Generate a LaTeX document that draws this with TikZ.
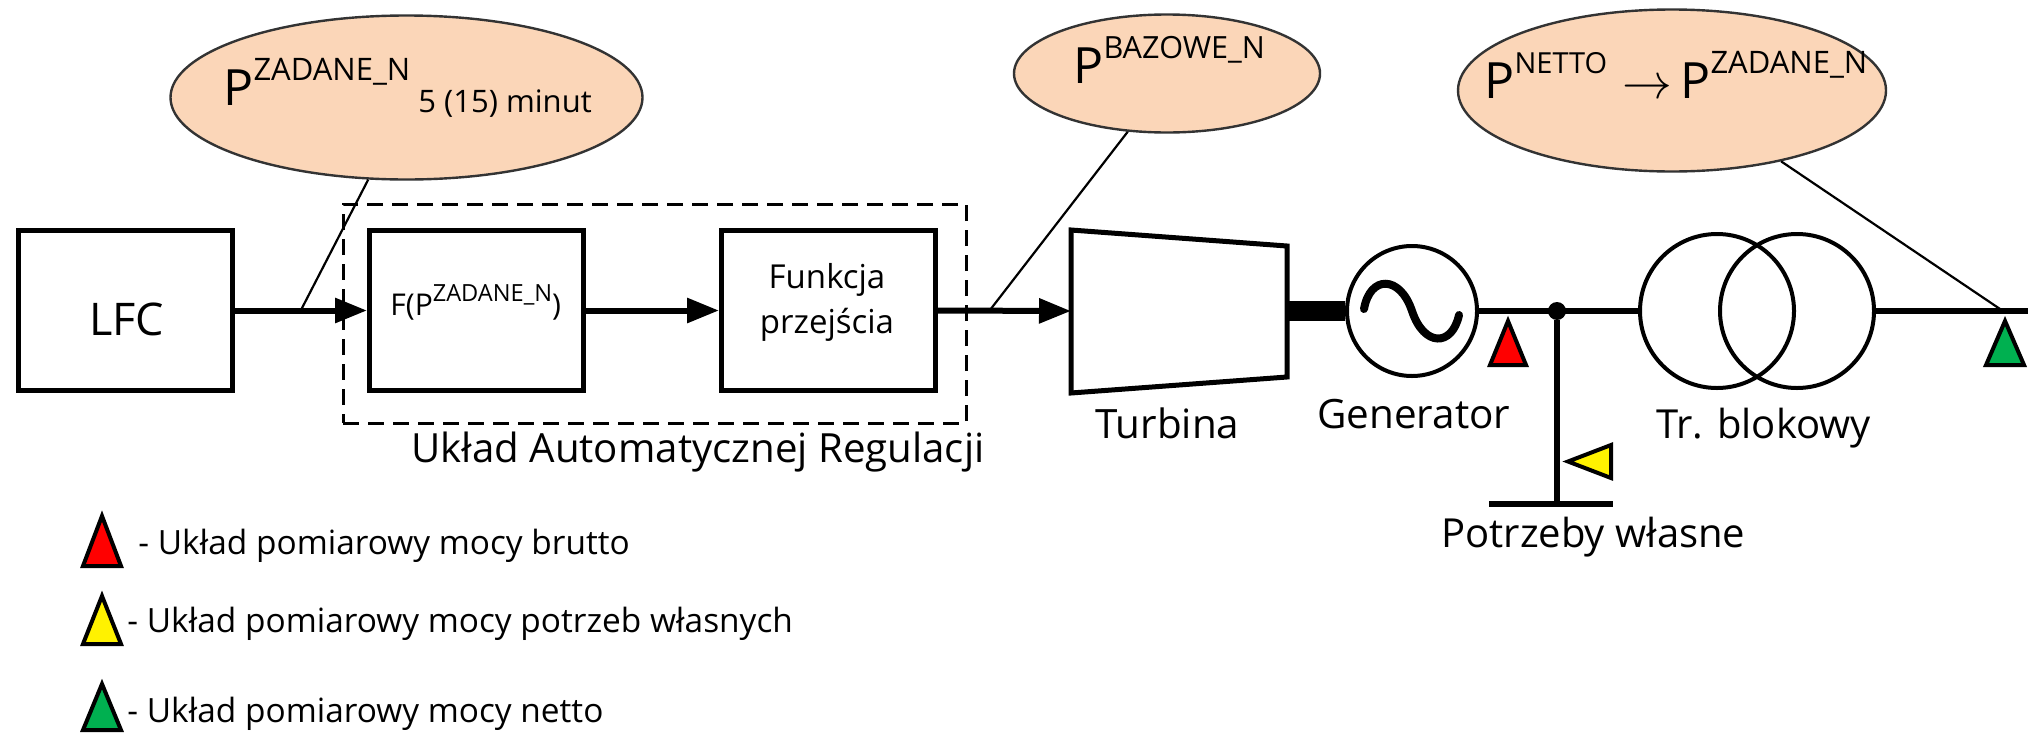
\documentclass[tikz,border=0pt]{standalone}
\usepackage{fontspec}
\setmainfont{Open Sans}
\usetikzlibrary{arrows.meta,positioning,shapes.geometric}

\definecolor{callout}{HTML}{FBD6B8}
\definecolor{greenmeter}{HTML}{00B050}

\newcommand{\fs}[1]{\fontsize{#1}{#1}\selectfont}
\newcommand{\sups}[2]{\raisebox{#1}{#2}}

\tikzset{
    block/.style={draw, line width=2.5pt, minimum width=107pt, minimum height=80pt, inner sep=0pt},
    wire/.style={line width=3pt},
    flow/.style={wire, -{Triangle[length=16pt,width=12pt]}},
    bubble/.style={ellipse, draw=black!80, line width=1.2pt, fill=callout, inner sep=0pt},
    leader/.style={line width=1.1pt},
    winding/.style={circle, draw, line width=2pt, inner sep=0pt},
    meter/.style={draw, line width=2pt, line join=miter},
    lbl/.style={inner sep=0pt, anchor=base west},
}

\begin{document}
\begin{tikzpicture}[x=0.5pt, y=-0.5pt, font=\fs{16}]
    \useasboundingbox (0,0) rectangle (2028,734);

    % Blocks
    \node[block] (lfc) at (125.5,310.5) {};
    \node[block, right=66pt of lfc] (fzad) {};
    \node[block, right=66.5pt of fzad] (funk) {};
    \node[lbl, font=\fs{22.5}] (lfctxt) at (89,335) {LFC};
    \node[lbl, font=\fs{15}] (fzadtxt) at (390,315) {F(P\sups{7pt}{\fs{11.8}ZADANE\_N})};
    \node[lbl, anchor=base, font=\fs{16.5}] (funktxt1) at (827,288) {Funkcja};
    \node[lbl, anchor=base, font=\fs{16.5}] (funktxt2) at (827,333) {przejścia};

    % Regulator frame
    \node[draw, line width=1.5pt, dash pattern=on 8pt off 4.5pt, minimum width=311.5pt,
        minimum height=109.5pt] (frame) at (654.5,313.5) {};
    \node[lbl, font=\fs{20.1}] (frametxt) at (411,462) {Układ Automatycznej Regulacji};

    % Turbine
    \coordinate (turbin) at (1071,311);
    \coordinate (turbout) at (1287,311);
    \draw[line width=2.5pt, line join=miter] (1071,230) -- (1287,246) -- (1287,377) -- (1071,393) -- cycle;
    \node[lbl, font=\fs{20.2}] (turbtxt) at (1095,438) {Turbina};

    % Generator
    \node[winding, minimum size=65pt] (gen) at (1412,311) {};
    \draw[line width=4pt, line cap=round] (1364,309) .. controls (1370,275) and (1400,275) .. (1412,311)
        .. controls (1424,347) and (1452,347) .. (1459,315);
    \node[lbl, font=\fs{20.2}] (gentxt) at (1317,428) {Generator};

    % Transformer
    \node[winding, minimum size=77pt] (trl) at (1717,311) {};
    \node[winding, minimum size=77pt] (trp) at (1797,311) {};
    \node[lbl, font=\fs{20}] (trtxt) at (1656,438) {Tr. blokowy};

    % Auxiliaries
    \node[circle, fill=black, inner sep=0pt, minimum size=9pt] (tap) at (1557,311) {};
    \coordinate (busl) at (1489,504);
    \coordinate (busr) at (1613,504);
    \coordinate (lineend) at (2028,311);
    \node[lbl, font=\fs{20}] (bustxt) at (1441,547) {Potrzeby własne};

    \draw[flow] (lfc.east) -- (fzad.west);
    \draw[flow] (fzad.east) -- (funk.west);
    \draw[flow] (funk.east) -- (turbin);
    \draw[line width=10pt] (turbout) -- (gen.west);
    \draw[wire] (gen.east) -- (trl.west);
    \draw[wire] (trp.east) -- (lineend);
    \draw[wire] (tap) -- (tap |- busl);
    \draw[wire] (busl) -- (busr);

    % Callouts
    \node[bubble, minimum width=236pt, minimum height=82pt] (zad) at (406.5,97.5) {};
    \node[bubble, minimum width=153pt, minimum height=59pt] (baz) at (1167,73.5) {};
    \node[bubble, minimum width=214pt, minimum height=81pt] (net) at (1672,90.5) {};
    \coordinate (zadend) at (301,310);
    \coordinate (bazend) at (990,310);
    \coordinate (netend) at (2000,309);
    \draw[leader] (zad.-115.6) -- (zadend);
    \draw[leader] (baz.-124.8) -- (bazend);
    \draw[leader] (net.-33.9) -- (netend);
    \node[lbl, font=\fs{25}] (zadtxt) at (223,105) {P\sups{12.5pt}{\fs{15.5}ZADANE\_N}};
    \node[lbl, font=\fs{15.5}] (mintxt) at (418,112) {5 (15) minut};
    \node[lbl, font=\fs{25}] (baztxt) at (1073,83) {P\sups{12.5pt}{\fs{15.3}BAZOWE\_N}};
    \node[lbl, font=\fs{25}] (nettxt) at (1484,98) {P\sups{12.5pt}{\fs{14.5}NETTO}};
    \node[lbl, font=\fs{24}] (netarr) at (1622,98) {$\rightarrow$};
    \node[lbl, font=\fs{25}] (netzad) at (1680,98) {P\sups{12.5pt}{\fs{15.5}ZADANE\_N}};

    % Meters
    \draw[meter, fill=red] (1508,321) -- (1526,365) -- (1490,365) -- cycle;
    \draw[meter, fill=yellow] (1568,461.5) -- (1611,445) -- (1611,478) -- cycle;
    \draw[meter, fill=greenmeter] (2005,321) -- (2024,365) -- (1986,365) -- cycle;

    % Legend
    \draw[meter, fill=red] (102,516) -- (121,566) -- (83,566) -- cycle;
    \draw[meter, fill=yellow] (102,596) -- (121,644) -- (83,644) -- cycle;
    \draw[meter, fill=greenmeter] (102,684) -- (121,730) -- (83,730) -- cycle;
    \node[lbl, font=\fs{16.7}] (brutto) at (138,554) {- Układ pomiarowy mocy brutto};
    \node[lbl, font=\fs{16.7}] (wlasne) at (127,632) {- Układ pomiarowy mocy potrzeb własnych};
    \node[lbl, font=\fs{16.7}] (netto) at (127,722) {- Układ pomiarowy mocy netto};
\end{tikzpicture}
\end{document}
